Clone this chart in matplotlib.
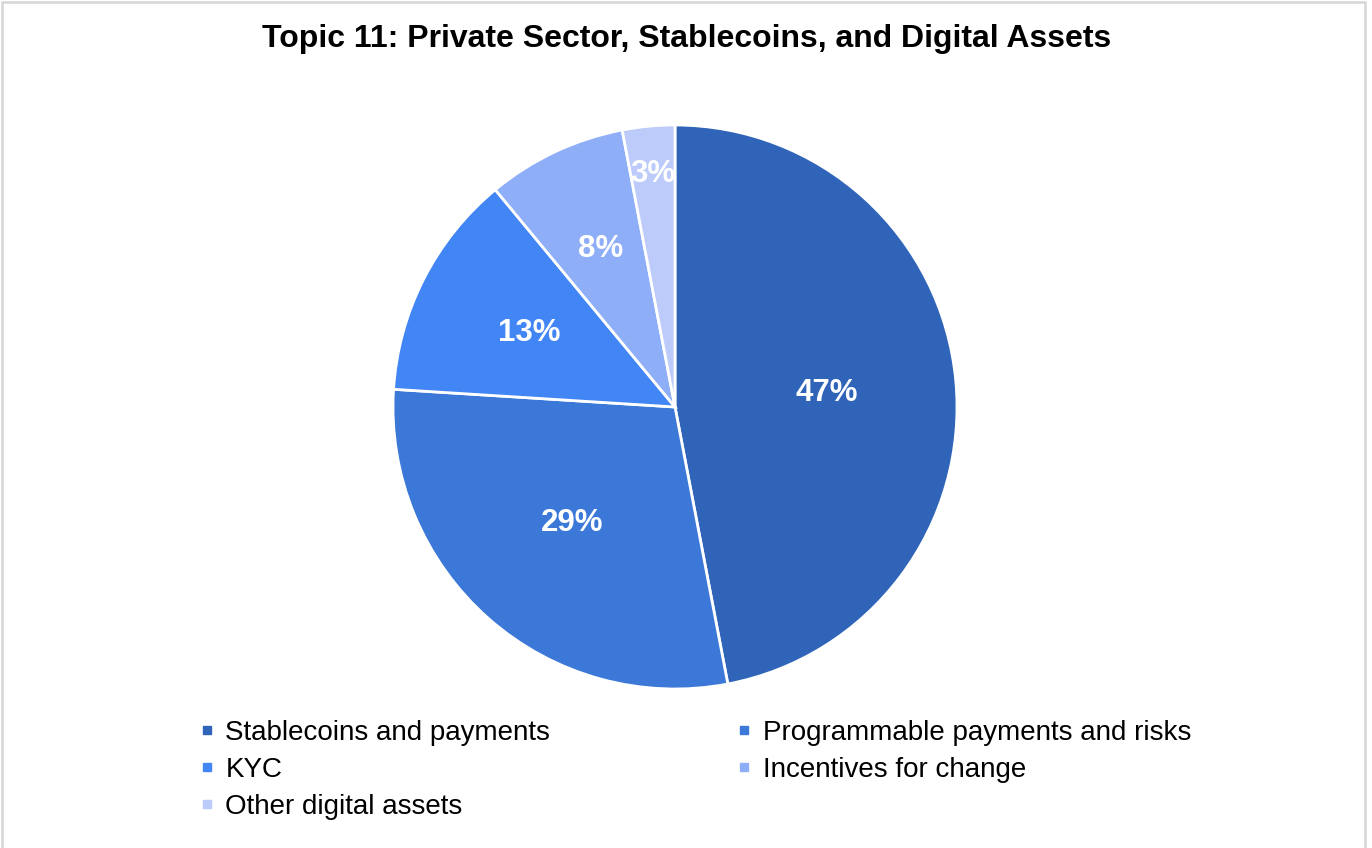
import matplotlib.pyplot as plt
from matplotlib.lines import Line2D
from matplotlib.patches import Rectangle
import numpy as np

plt.rcParams['font.family'] = ['Liberation Sans', 'DejaVu Sans']

# data
topics = ['Stablecoins and payments', 'Programmable payments and risks', 'KYC',
          'Incentives for change', 'Other digital assets']
shares = [47, 29, 13, 8, 3]
colores = ['#3064b9', '#3b78d8', '#4285f4', '#8faef8', '#bccbfa']
# how far out each percentage sits (fraction of radius)
label_r = [0.54, 0.55, 0.58, 0.62, 0.83]

fig = plt.figure(figsize=(13.72, 8.48), dpi=100)
fig.patches.append(Rectangle((0.0015, -0.01), 0.9935, 1.0075, transform=fig.transFigure,
                             fill=False, edgecolor='#d9d9d9', linewidth=2))

W, H = 1372, 848
cx, cy, r = 675, 407, 282
ax = fig.add_axes([(cx - r) / W, (H - cy - r) / H, 2 * r / W, 2 * r / H])

wedges, _ = ax.pie(shares, colors=colores, startangle=90, counterclock=False,
                   wedgeprops=dict(edgecolor='white', linewidth=2))
ax.set_xlim(-1.0, 1.0)
ax.set_ylim(-1.0, 1.0)
ax.set_aspect('equal')

for w, s, rr in zip(wedges, shares, label_r):
    ang = np.deg2rad((w.theta1 + w.theta2) / 2)
    ax.text(rr * np.cos(ang), rr * np.sin(ang), '{}%'.format(s), ha='center', va='center',
            color='white', fontsize=22.5, fontweight='bold')

fig.text(687 / W, 1 - 39 / H, 'Topic 11: Private Sector, Stablecoins, and Digital Assets',
         ha='center', va='center', fontsize=23, fontweight='bold')

# legend, filled column by column
order = [0, 2, 4, 1, 3]
handles = [Line2D([], [], marker='s', linestyle='', markersize=6,
                  markerfacecolor=colores[i], markeredgecolor=colores[i]) for i in order]
labels = [topics[i] for i in order]
fig.legend(handles, labels, ncol=2, loc='upper left', bbox_to_anchor=(199 / W, 1 - 720 / H),
           frameon=False, fontsize=20, handlelength=0.55, handletextpad=0.4,
           columnspacing=6.7, labelspacing=0.39, borderaxespad=0, borderpad=0)

plt.savefig('out.png', dpi=100)
